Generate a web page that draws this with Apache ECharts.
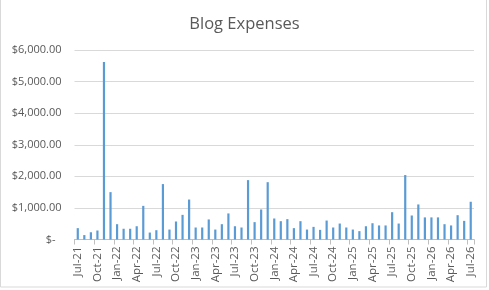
<!DOCTYPE html>
<html>
<head>
<meta charset="utf-8">
<script src="https://cdn.jsdelivr.net/npm/echarts@6/dist/echarts.min.js"></script>
<style>
  html, body { margin: 0; padding: 0; background: #fff; }
  #chart { width: 489px; height: 290px; }
</style>
</head>
<body>
<div id="chart"></div>
<script>
// Monthly blog expenses, Jul-21 through Jul-26
const months = [
  'Jul-21','Aug-21','Sep-21','Oct-21','Nov-21','Dec-21',
  'Jan-22','Feb-22','Mar-22','Apr-22','May-22','Jun-22','Jul-22','Aug-22','Sep-22','Oct-22','Nov-22','Dec-22',
  'Jan-23','Feb-23','Mar-23','Apr-23','May-23','Jun-23','Jul-23','Aug-23','Sep-23','Oct-23','Nov-23','Dec-23',
  'Jan-24','Feb-24','Mar-24','Apr-24','May-24','Jun-24','Jul-24','Aug-24','Sep-24','Oct-24','Nov-24','Dec-24',
  'Jan-25','Feb-25','Mar-25','Apr-25','May-25','Jun-25','Jul-25','Aug-25','Sep-25','Oct-25','Nov-25','Dec-25',
  'Jan-26','Feb-26','Mar-26','Apr-26','May-26','Jun-26','Jul-26'
];

const expenses = [
  360, 140, 230, 285, 5620, 1500,
  485, 340, 340, 420, 1065, 220, 295, 1755, 315, 570, 780, 1265,
  380, 380, 635, 315, 485, 825, 420, 380, 1880, 550, 950, 1815,
  665, 580, 645, 360, 580, 315, 400, 305, 600, 380, 505, 380,
  315, 265, 420, 515, 445, 445, 865, 505, 2040, 760, 1110, 700,
  700, 700, 485, 445, 770, 590, 1195
];

const yTicks = { min: 0, max: 6000, step: 1000 };

const money = v => v === 0
  ? '{z|$-}'
  : '$' + v.toLocaleString('en-US', { minimumFractionDigits: 2, maximumFractionDigits: 2 });

const chart = echarts.init(document.getElementById('chart'), null, { renderer: 'canvas' });

chart.setOption({
  animation: false,
  backgroundColor: '#ffffff',
  textStyle: { fontFamily: 'Open Sans' },
  title: {
    text: 'Blog Expenses',
    left: 'center',
    top: 11,
    textStyle: { fontFamily: 'Open Sans', fontSize: 16.5, fontWeight: 'normal', color: '#595959' }
  },
  graphic: [{
    type: 'rect',
    shape: { x: 0.5, y: -2, width: 486, height: 289 },
    style: { fill: 'none', stroke: '#D9D9D9', lineWidth: 1 },
    silent: true
  }],
  grid: { left: 74.5, right: 15, top: 50, bottom: 50.5, containLabel: false },
  xAxis: {
    type: 'category',
    data: months,
    boundaryGap: true,
    axisLine: { show: true, lineStyle: { color: '#BFBFBF', width: 1 } },
    axisTick: { show: true, interval: 2, length: 5, lineStyle: { color: '#BFBFBF' } },
    axisLabel: {
      interval: 2,
      rotate: 90,
      margin: 7,
      fontSize: 11.5,
      fontFamily: 'Open Sans',
      color: '#595959'
    },
    splitLine: { show: false }
  },
  yAxis: {
    type: 'value',
    min: yTicks.min,
    max: yTicks.max,
    interval: yTicks.step,
    axisLine: { show: false },
    axisTick: { show: false },
    axisLabel: {
      margin: 13,
      fontSize: 11,
      fontFamily: 'Open Sans',
      color: '#595959',
      formatter: money,
      rich: { z: { fontSize: 11, fontFamily: 'Open Sans', color: '#595959', padding: [0, 6, 0, 0] } }
    },
    splitLine: { show: true, lineStyle: { color: '#D9D9D9', width: 1 } }
  },
  series: [{
    type: 'bar',
    data: expenses,
    barWidth: 2.2,
    itemStyle: { color: '#5B9BD5' }
  }]
});
</script>
</body>
</html>
